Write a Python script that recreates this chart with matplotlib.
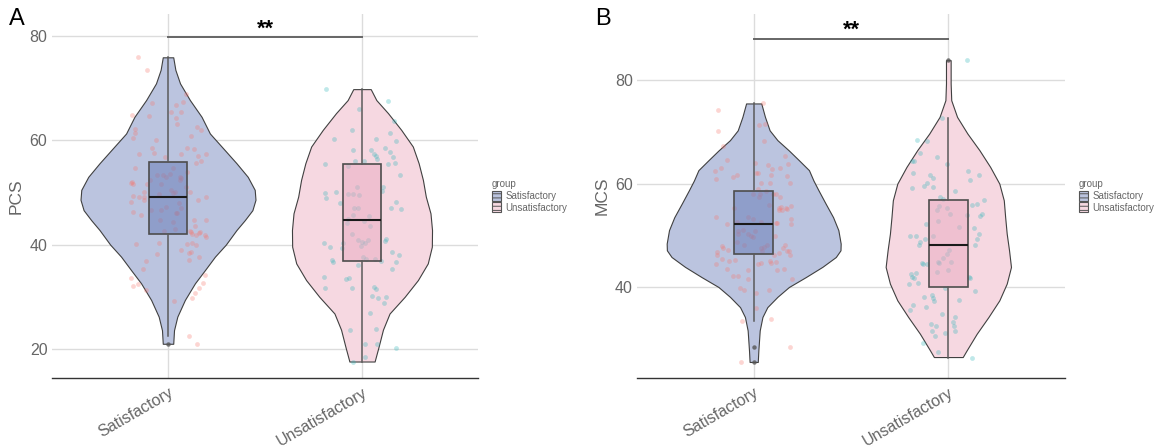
import numpy as np
import matplotlib
matplotlib.use("Agg")
import matplotlib.pyplot as plt
from matplotlib.patches import Patch

plt.rcParams['font.family'] = ['Liberation Sans', 'DejaVu Sans']

groups = ['Satisfactory', 'Unsatisfactory']

# ---------------- Panel A : PCS ----------------
pcs_sat_y = [75.9,73.4,68.9,67.1,67.3,66.7,65.4,65.4,64.9,64.6,
             64.3,63.2,62.6,62.0,62.1,61.3,60.5,60.8,60.1,58.5,
             58.5,58.3,57.6,57.3,57.4,57.4,56.9,56.1,55.7,56.8,
             54.6,54.6,53.9,53.5,53.3,53.3,53.0,53.0,52.7,52.3,
             52.0,51.9,51.7,51.6,52.3,51.6,51.1,50.0,50.0,50.5,
             49.8,50.0,49.3,49.1,49.1,49.7,48.5,49.1,48.2,48.5,
             47.3,46.6,47.9,47.1,46.6,46.3,46.1,46.1,45.7,44.7,
             44.4,44.8,44.8,43.6,42.6,43.0,42.7,42.4,42.0,41.8,
             42.4,42.2,41.9,41.5,40.4,40.1,40.1,40.3,39.9,39.0,
             38.3,38.6,38.4,37.7,37.1,36.8,35.3,34.2,33.6,32.6,
             32.5,32.0,31.6,31.3,30.7,29.8,29.2,22.4,20.9]
pcs_sat_jit = [-0.156,-0.108,0.094,-0.081,0.075,0.043,0.017,0.065,-0.185,-0.098,
               0.041,0.046,0.151,0.168,-0.170,-0.168,-0.180,0.118,-0.060,-0.084,
               0.098,0.134,-0.074,-0.147,0.069,0.195,0.154,0.170,0.146,-0.017,
               -0.170,0.026,0.099,0.012,-0.058,-0.027,-0.010,0.060,0.067,0.062,
               -0.185,-0.192,-0.178,-0.034,-0.091,-0.108,0.091,0.113,0.034,0.014,
               0.024,-0.125,-0.180,-0.151,-0.122,-0.048,-0.122,0.197,-0.189,0.156,
               -0.009,-0.036,0.057,0.069,-0.087,-0.178,0.039,0.045,-0.141,-0.043,
               0.027,0.134,0.195,0.137,-0.022,0.034,0.115,0.117,0.123,0.144,
               0.165,0.158,0.189,0.197,-0.045,-0.165,0.096,0.122,0.146,0.069,
               -0.057,0.120,0.110,0.158,0.108,-0.113,-0.129,0.192,-0.189,0.180,
               -0.153,-0.178,0.161,-0.113,0.141,0.125,0.031,0.106,0.151]
pcs_uns_y = [69.8,67.5,65.9,63.6,62.0,60.2,60.3,61.3,59.9,58.1,
             58.1,58.6,57.8,57.4,57.0,56.5,56.8,55.5,55.6,56.0,
             56.0,55.4,55.1,53.4,51.1,51.0,50.3,49.8,48.9,50.0,
             49.7,49.7,49.5,48.2,47.9,47.1,46.8,47.1,47.0,45.7,
             45.5,44.9,44.2,44.5,43.6,42.1,40.4,39.6,40.3,39.4,
             40.8,40.5,39.8,40.8,40.3,41.0,40.6,38.6,38.0,37.6,
             37.3,37.3,36.9,37.1,36.6,36.7,36.1,35.3,33.8,33.5,
             33.7,31.6,31.6,31.8,31.5,30.2,29.8,30.0,28.8,26.9,
             23.7,23.8,21.0,21.0,20.1,18.4,17.5]
pcs_uns_jit = [-0.183,0.134,-0.014,0.163,-0.051,-0.146,0.072,0.146,0.175,-0.045,
               0.045,0.118,0.142,0.062,0.070,0.077,0.158,0.135,0.168,-0.038,
               0.010,-0.190,-0.070,0.197,0.110,-0.027,0.101,-0.190,-0.185,-0.132,
               -0.070,-0.046,-0.017,0.173,-0.113,0.151,0.201,-0.041,-0.022,-0.045,
               0.036,-0.072,-0.075,0.012,0.041,-0.050,-0.195,-0.166,-0.099,-0.103,
               -0.022,0.002,-0.003,0.029,0.017,0.123,0.118,0.153,0.192,0.003,
               0.021,0.069,0.098,-0.153,-0.147,0.177,-0.019,0.154,-0.195,-0.082,
               -0.069,-0.190,-0.053,0.063,0.074,0.050,0.082,0.123,0.115,0.041,
               -0.060,0.072,0.015,0.075,0.175,0.014,-0.045]

# violin outlines (score, half width in category units)
pcs_sat_vy = [21.0,23.6,26.2,29.4,32.6,35.1,37.7,40.0,42.8,44.7,46.6,48.6,50.5,53.0,55.6,58.1,61.3,64.5,67.7,70.9,73.5,75.9]
pcs_sat_vw = [0.027,0.031,0.048,0.087,0.139,0.190,0.242,0.298,0.353,0.396,0.435,0.451,0.447,0.411,0.353,0.293,0.216,0.173,0.113,0.062,0.038,0.027]
pcs_uns_vy = [17.6,20.5,23.7,26.8,30.0,33.2,36.4,39.6,42.8,46.0,49.2,52.4,55.6,58.8,62.0,65.2,67.7,69.8]
pcs_uns_vw = [0.065,0.086,0.108,0.142,0.220,0.288,0.339,0.360,0.361,0.353,0.329,0.314,0.292,0.262,0.202,0.134,0.074,0.045]

# box statistics: whislo, q1, median, q3, whishi, outliers
pcs_box_sat = [22.4, 42.05, 49.2, 55.8, 75.9, [20.9]]
pcs_box_uns = [17.5, 36.9, 44.7, 55.4, 69.8, []]

# ---------------- Panel B : MCS ----------------
mcs_sat_y = [75.5,74.2,71.4,71.5,70.2,68.3,67.2,65.3,64.5,64.0,
             63.5,63.7,62.4,63.1,62.8,63.0,62.1,62.0,61.6,61.5,
             60.8,61.3,61.6,60.1,60.1,60.1,59.0,58.5,57.9,57.9,
             57.9,57.9,57.5,55.9,57.4,55.3,55.7,55.3,55.5,54.9,
             55.2,54.8,55.0,53.5,53.5,53.2,53.2,52.1,52.5,52.5,
             52.4,52.4,52.2,50.8,50.2,51.1,50.2,49.9,49.6,50.8,
             49.9,48.7,48.2,47.9,47.6,47.2,47.5,47.0,48.2,47.7,
             48.1,47.6,47.0,46.9,46.6,46.2,46.8,46.1,46.1,45.5,
             45.0,45.2,44.7,44.4,45.1,44.9,44.6,44.4,43.4,43.2,
             43.2,43.4,42.1,42.2,41.5,41.5,39.8,39.4,38.9,39.5,
             35.9,33.4,33.9,28.4,25.5]
mcs_sat_jit = [0.046,-0.183,0.027,0.058,-0.183,0.055,-0.156,0.163,-0.139,0.007,
               0.072,0.177,-0.197,-0.170,0.094,0.137,0.014,0.022,0.091,0.170,
               -0.194,-0.105,-0.084,0.036,0.082,0.187,0.022,0.062,-0.005,0.033,
               0.098,0.115,0.026,0.077,0.137,-0.103,0.194,0.129,0.141,0.147,
               0.166,0.130,0.173,-0.194,-0.029,-0.002,0.190,-0.139,-0.084,0.036,
               0.113,0.122,0.192,-0.082,-0.079,-0.053,-0.027,-0.014,-0.002,0.009,
               0.111,-0.087,-0.050,-0.165,-0.156,-0.130,0.036,0.041,0.070,0.055,
               0.163,0.149,0.173,0.183,0.129,0.106,-0.189,-0.190,0.189,-0.165,
               -0.127,-0.098,0.038,0.022,0.082,0.115,0.089,-0.194,-0.139,-0.029,
               0.120,0.154,-0.106,-0.079,-0.031,0.195,-0.069,-0.050,0.014,0.079,
               0.014,-0.060,0.089,0.185,-0.067]
mcs_uns_y = [83.9,72.6,68.4,68.3,66.0,64.3,64.4,65.2,63.7,62.1,
             61.6,61.1,62.5,60.7,61.7,59.2,59.5,60.1,59.4,57.4,
             57.0,58.5,55.7,55.2,54.8,54.2,55.8,56.0,56.9,54.2,
             53.7,53.9,52.8,52.2,51.6,51.4,49.9,49.8,49.8,48.7,
             48.2,50.3,49.2,48.1,49.2,47.2,46.3,45.6,44.9,44.8,
             44.6,44.7,44.5,44.5,42.9,43.2,42.5,42.8,41.9,41.7,
             40.8,40.5,41.9,41.7,39.9,39.2,38.4,37.9,38.0,37.3,
             37.5,36.1,36.5,35.5,34.8,34.2,33.2,32.9,32.4,32.5,
             31.4,31.4,30.5,31.1,29.2,27.4,26.3]
mcs_uns_jit = [0.094,-0.034,-0.163,-0.108,-0.146,-0.187,-0.178,-0.058,-0.009,-0.182,
               -0.096,-0.077,0.099,0.113,0.156,-0.189,-0.127,-0.111,-0.079,-0.043,
               -0.026,0.034,-0.048,-0.009,-0.060,0.010,0.122,0.147,0.182,0.171,
               0.163,0.094,-0.051,-0.117,0.053,0.130,-0.081,-0.199,-0.165,-0.146,
               -0.153,0.159,0.146,0.137,-0.118,0.002,-0.009,-0.029,0.014,-0.055,
               -0.046,-0.137,-0.129,-0.111,-0.058,0.000,-0.194,-0.168,-0.187,-0.178,
               -0.156,-0.201,0.105,0.111,-0.015,0.135,-0.084,-0.077,-0.125,-0.072,
               0.057,-0.115,-0.182,-0.195,-0.031,0.036,0.024,-0.091,-0.063,0.031,
               -0.086,0.034,-0.070,-0.019,-0.132,-0.055,0.123]

mcs_sat_vy = [25.5,27.7,31.6,34.2,36.1,38.1,40.0,41.9,43.9,45.8,47.1,48.4,51.0,53.5,56.1,58.7,60.6,62.6,64.5,66.4,68.4,70.3,72.9,75.5]
mcs_sat_vw = [0.021,0.024,0.031,0.045,0.070,0.122,0.181,0.267,0.353,0.422,0.446,0.447,0.435,0.408,0.370,0.333,0.307,0.284,0.233,0.181,0.122,0.082,0.058,0.039]
mcs_uns_vy = [26.45,27.74,30.97,34.19,37.42,40.65,43.87,47.10,50.32,53.55,56.77,60.0,63.23,66.45,69.68,72.90,76.13,79.36,83.87]
mcs_uns_vw = [0.074,0.094,0.146,0.206,0.262,0.300,0.322,0.312,0.300,0.292,0.285,0.262,0.215,0.160,0.098,0.045,0.015,0.012,0.012]

mcs_box_sat = [33.5, 46.45, 52.25, 58.5, 75.5, [28.4, 25.5]]
mcs_box_uns = [26.3, 40.0, 48.1, 56.9, 72.6, [83.9]]

# significance
sig_label = '**'
pcs_sig_y = 79.7
mcs_sig_y = 88.0

# ---------------- styling ----------------
violin_col = ['#BBC4DF', '#F6D8E1']
box_col = [(0.396, 0.478, 0.718, 0.5), (0.918, 0.667, 0.753, 0.5)]
point_col = ['#F8766D', '#2BB5B9']
grid_col = '#DCDCDC'
text_col = '#666666'

fig = plt.figure(figsize=(11.64, 4.47), dpi=100)
axA = fig.add_axes([51.6/1164, 69/447, 426.8/1164, 364/447])
axB = fig.add_axes([636.9/1164, 69/447, 428.2/1164, 364/447])


def panel(ax, vprof, pts, boxes, ylim, yticks, ylabel, sig_y):
    ax.set_xlim(0.4, 2.6)
    ax.set_ylim(*ylim)
    ax.set_axisbelow(True)
    ax.grid(True, color=grid_col, lw=1.0)
    for s in ['left', 'right', 'top']:
        ax.spines[s].set_visible(False)
    ax.spines['bottom'].set_color('#333333')
    ax.spines['bottom'].set_linewidth(1.0)
    pos = [1, 2]
    # violins
    for i, (vy, vw) in enumerate(vprof):
        vy = np.asarray(vy); vw = np.asarray(vw)
        stats = [dict(coords=vy, vals=vw, mean=vy.mean(), median=np.median(vy),
                      min=vy.min(), max=vy.max())]
        res = ax.violin(stats, positions=[pos[i]], widths=[2 * vw.max()],
                        showmeans=False, showextrema=False, showmedians=False)
        for b in res['bodies']:
            b.set_facecolor(violin_col[i])
            b.set_edgecolor('#404040')
            b.set_linewidth(0.8)
            b.set_alpha(1)
            b.set_zorder(2)
    # jittered points
    for i, (jy, jx) in enumerate(pts):
        ax.scatter(pos[i] + np.asarray(jx), jy, s=12, color=point_col[i],
                   alpha=0.3, linewidths=0, zorder=3)
    # boxes
    for i, b in enumerate(boxes):
        st = dict(whislo=b[0], q1=b[1], med=b[2], q3=b[3], whishi=b[4], fliers=b[5])
        ax.bxp([st], positions=[pos[i]], widths=0.2, patch_artist=True,
               showcaps=False, showfliers=True,
               boxprops=dict(facecolor=box_col[i], edgecolor='#4d4d4d', linewidth=1.2),
               whiskerprops=dict(color='#5a5a5a', linewidth=1.1),
               medianprops=dict(color='#1a1a1a', linewidth=1.5),
               flierprops=dict(marker='o', markersize=3.2, markerfacecolor='#555555',
                               markeredgecolor='none', alpha=0.8),
               zorder=4)
    ax.set_xticks(pos)
    ax.set_xticklabels(groups, rotation=30, ha='right', rotation_mode='anchor',
                       fontsize=11.5, color=text_col)
    ax.set_yticks(yticks)
    ax.set_yticklabels([str(t) for t in yticks], fontsize=11.5, color=text_col)
    ax.tick_params(axis='both', length=0)
    ax.tick_params(axis='x', pad=5)
    ax.tick_params(axis='y', pad=3)
    ax.set_ylabel(ylabel, fontsize=12.5, color=text_col, labelpad=4)
    # significance bracket
    ax.plot(pos, [sig_y, sig_y], color='#666666', lw=1.4, zorder=5, clip_on=False)
    ax.text(1.5, sig_y - 0.4, sig_label, ha='center', va='bottom', fontsize=15.5,
            fontweight='bold', color='black')
    # legend
    handles = [Patch(facecolor=violin_col[i], edgecolor='#555555', hatch='----',
                     linewidth=0.8) for i in range(2)]
    leg = ax.legend(handles, groups, title='group', loc='center left',
                    bbox_to_anchor=(1.032, 0.5), frameon=False, fontsize=7,
                    title_fontsize=7, handlelength=0.95, handleheight=1.15,
                    labelspacing=0.15, handletextpad=0.45, borderaxespad=0,
                    borderpad=0, alignment='left', labelcolor=text_col)
    leg.get_title().set_color(text_col)


plt.rcParams['hatch.linewidth'] = 0.7
panel(axA, [(pcs_sat_vy, pcs_sat_vw), (pcs_uns_vy, pcs_uns_vw)],
      [(pcs_sat_y, pcs_sat_jit), (pcs_uns_y, pcs_uns_jit)],
      [pcs_box_sat, pcs_box_uns], (14.44, 84.2), [20, 40, 60, 80], 'PCS', pcs_sig_y)
panel(axB, [(mcs_sat_vy, mcs_sat_vw), (mcs_uns_vy, mcs_uns_vw)],
      [(mcs_sat_y, mcs_sat_jit), (mcs_uns_y, mcs_uns_jit)],
      [mcs_box_sat, mcs_box_uns], (22.4, 92.8), [40, 60, 80], 'MCS', mcs_sig_y)

fig.text(9/1164, (447-25)/447, 'A', fontsize=17, va='baseline', ha='left')
fig.text(595/1164, (447-25)/447, 'B', fontsize=17, va='baseline', ha='left')

fig.savefig('out.png', dpi=100)
